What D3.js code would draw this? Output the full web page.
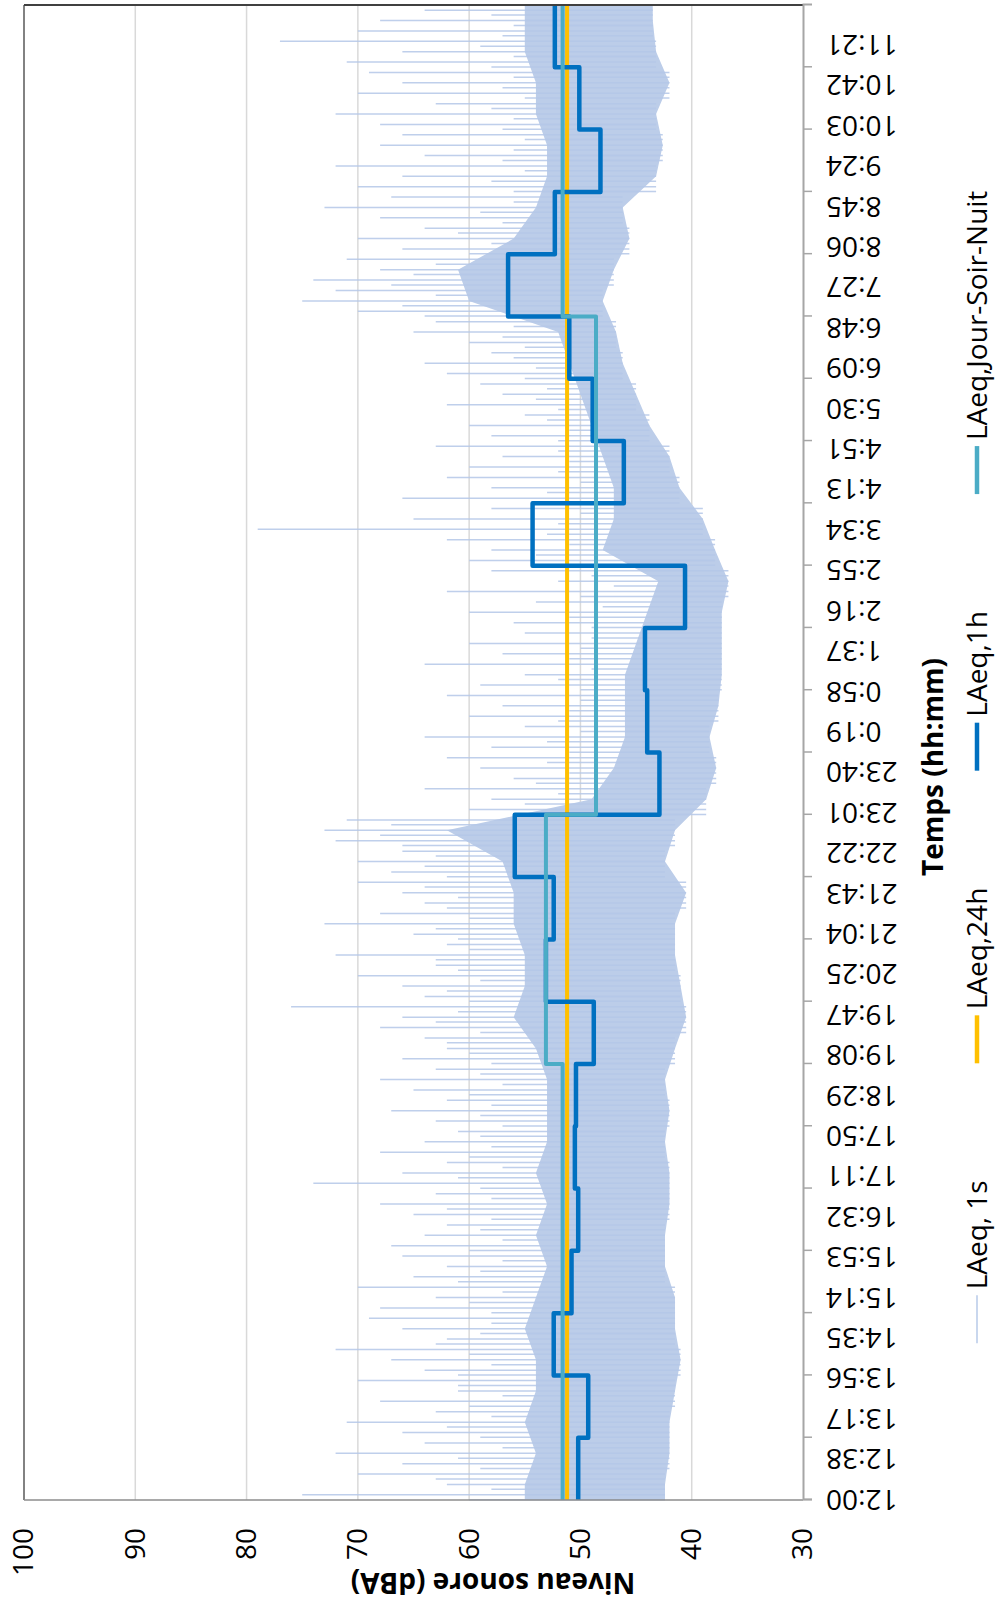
<!DOCTYPE html>
<html>
<head>
<meta charset="utf-8">
<script src="https://cdn.jsdelivr.net/npm/d3@7"></script>
<style>
  html, body { margin: 0; padding: 0; background: #fff; }
  svg { display: block; font-family: "Open Sans", sans-serif; }
</style>
</head>
<body>
<script>
// ---- data ----
// hourly LAeq,1h starting at 12:00
const hourlyLeq = [50.2, 49.3, 52.4, 50.8, 50.2, 50.5, 50.4, 48.8, 53.1, 52.4, 55.9, 42.9,
                   44.0, 44.2, 40.6, 54.3, 46.1, 48.9, 51.0, 56.5, 52.3, 48.2, 50.1, 52.3];
// LAeq,24h
const dailyLeq = 51.2;
// LAeq day / evening / night periods (seconds after 12:00)
const ldenStarts = [0, 25200, 39600, 68400];
const ldenValues = [51.6, 53.1, 48.6, 51.6];

// LAeq,1s band, per half hour from 12:00: lowest levels and edge of the dense part
const floorLevel = [42.4, 42, 42, 41.5, 41, 41.5, 41.5, 42.4, 42.4, 42, 42, 42.4,
                    42, 42.4, 41.5, 40.5, 41, 41.5, 41.5, 40.5, 42.4, 41.5, 38.7, 37.8,
                    38.4, 37.6, 37.3, 37.3, 37.3, 36.7, 37.9, 39, 41.1, 42, 43.8, 45,
                    46.2, 46.8, 48, 47, 45.6, 46.2, 43.2, 42.6, 43.2, 42, 43.2, 43.5];
const coreLevel = [55, 54, 55, 54, 54, 55, 54, 53, 54, 53, 54, 53,
                   53, 53, 54, 56, 55, 55, 56, 56, 57, 62, 49, 47,
                   46, 46, 46, 45, 44, 43, 48, 47, 47, 48, 49, 50,
                   51, 52, 60, 61, 56, 54, 53, 53, 54, 54, 55, 55];
// LAeq,1s peaks, per 10 minutes from 12:00 (one row per hour)
const peakLevel = [
  75, 62, 70, 66, 72, 64,
  66, 71, 63, 68, 61, 70,
  64, 67, 72, 62, 66, 69,
  68, 63, 70, 65, 62, 66,
  67, 64, 62, 65, 68, 63,
  74, 66, 62, 68, 64, 61,
  63, 67, 62, 65, 68, 63,
  66, 62, 64, 68, 66, 76,
  64, 66, 70, 63, 72, 62,
  65, 73, 68, 64, 66, 70,
  67, 70, 66, 72, 73, 71,
  60, 58, 64, 56, 59, 62,
  58, 64, 55, 60, 57, 62,
  59, 55, 64, 57, 60, 55,
  56, 60, 54, 62, 52, 58,
  60, 58, 62, 79, 65, 58,
  66, 58, 62, 60, 57, 63,
  58, 60, 55, 62, 57, 59,
  62, 64, 58, 60, 65, 63,
  70, 75, 72, 74, 68, 71,
  66, 70, 64, 68, 73, 67,
  70, 66, 72, 64, 68, 66,
  68, 72, 63, 70, 66, 69,
  71, 66, 77, 70, 68, 64
];
// smaller LAeq,1s excursions, per 10 minutes (offset by 5 min)
const minorLevel = [
  60, 58, 63, 59, 61, 57,
  59, 62, 58, 60, 57, 61,
  61, 58, 60, 63, 59, 58,
  58, 60, 57, 61, 59, 57,
  60, 57, 59, 58, 62, 58,
  59, 61, 57, 60, 58, 59,
  57, 59, 58, 60, 57, 59,
  58, 60, 62, 59, 63, 61,
  60, 62, 59, 61, 63, 60,
  61, 63, 60, 62, 61, 64,
  62, 64, 63, 66, 68, 67,
  53, 55, 52, 54, 51, 53,
  51, 53, 50, 52, 51, 50,
  50, 52, 49, 51, 50, 49,
  49, 51, 48, 50, 47, 49,
  52, 54, 51, 53, 52, 50,
  51, 53, 50, 52, 51, 52,
  52, 51, 53, 52, 54, 53,
  55, 54, 56, 55, 57, 56,
  64, 66, 63, 67, 65, 63,
  60, 58, 61, 57, 59, 56,
  56, 58, 55, 57, 56, 55,
  57, 56, 58, 55, 57, 56,
  58, 56, 59, 57, 56, 58
];

const dbTicks = [30, 40, 50, 60, 70, 80, 90, 100];
const timeLabels = ["12:00", "12:38", "13:17", "13:56", "14:35", "15:14", "15:53", "16:32",
  "17:11", "17:50", "18:29", "19:08", "19:47", "20:25", "21:04", "21:43", "22:22", "23:01",
  "23:40", "0:19", "0:58", "1:37", "2:16", "2:55", "3:34", "4:13", "4:51", "5:30", "6:09",
  "6:48", "7:27", "8:06", "8:45", "9:24", "10:03", "10:42", "11:21"];
const labelStep = 2335.3; // seconds between time labels
const seriesNames = ["LAeq, 1s", "LAeq,24h", "LAeq,1h", "LAeq,Jour-Soir-Nuit"];
const seriesColors = ["#c9d7ee", "#ffc000", "#0070c0", "#4bacc6"];

// ---- drawing ----
const width = 996, height = 1604;
const svg = d3.select("body").append("svg").attr("width", width).attr("height", height);
// chart is built as a landscape chart, then turned a quarter turn counter-clockwise
const g = svg.append("g").attr("transform", `translate(0,${height}) rotate(-90)`);

const x = d3.scaleLinear().domain([0, 86400]).range([104, 1599]);
const y = d3.scaleLinear().domain([30, 100]).range([803, 24]);

// gridlines
g.append("g").selectAll("line")
  .data(dbTicks.filter(v => v > 30 && v < 100))
  .join("line")
  .attr("x1", x(0)).attr("x2", x(86400))
  .attr("y1", d => y(d)).attr("y2", d => y(d))
  .attr("stroke", "#d9d9d9").attr("stroke-width", 1.5);

// LAeq,1s: dense band + spikes
const bandPts = [{ t: 0, lo: floorLevel[0], hi: coreLevel[0] }]
  .concat(floorLevel.map((f, i) => ({ t: i * 1800 + 900, lo: f, hi: coreLevel[i] })))
  .concat([{ t: 86400, lo: floorLevel[floorLevel.length - 1], hi: coreLevel[coreLevel.length - 1] }]);
g.append("path")
  .datum(bandPts)
  .attr("d", d3.area().x(d => x(d.t)).y0(d => y(d.lo)).y1(d => y(d.hi)))
  .attr("fill", "#bccde9");

const spikes = [];
peakLevel.forEach((p, i) => spikes.push({ t: i * 600 + 300, lo: floorLevel[Math.floor(i / 3)], hi: p }));
minorLevel.forEach((p, i) => spikes.push({ t: i * 600 + 20, lo: floorLevel[Math.floor(i / 3)], hi: p }));
g.append("g").selectAll("line")
  .data(spikes)
  .join("line")
  .attr("x1", d => x(d.t)).attr("x2", d => x(d.t))
  .attr("y1", d => y(d.lo)).attr("y2", d => y(d.hi))
  .attr("stroke", "#b4c7e7").attr("stroke-opacity", 0.85).attr("stroke-width", 1.5);

// step lines
const step = d3.line().x(d => x(d.t)).y(d => y(d.v)).curve(d3.curveStepAfter);

g.append("path")
  .datum([{ t: 0, v: dailyLeq }, { t: 86400, v: dailyLeq }])
  .attr("d", step).attr("fill", "none")
  .attr("stroke", seriesColors[1]).attr("stroke-width", 4);

const hourPts = hourlyLeq.map((v, i) => ({ t: i * 3600, v }));
hourPts.push({ t: 86400, v: hourlyLeq[hourlyLeq.length - 1] });
g.append("path")
  .datum(hourPts)
  .attr("d", step).attr("fill", "none")
  .attr("stroke", seriesColors[2]).attr("stroke-width", 4.5)
  .attr("stroke-linejoin", "round");

const ldenPts = ldenStarts.map((t, i) => ({ t, v: ldenValues[i] }));
ldenPts.push({ t: 86400, v: ldenValues[ldenValues.length - 1] });
g.append("path")
  .datum(ldenPts)
  .attr("d", step).attr("fill", "none")
  .attr("stroke", seriesColors[3]).attr("stroke-width", 4)
  .attr("stroke-linejoin", "round");

// plot frame
g.append("line").attr("x1", x(0)).attr("x2", x(86400)).attr("y1", y(100)).attr("y2", y(100))
  .attr("stroke", "#595959").attr("stroke-width", 1.5);
g.append("line").attr("x1", x(86400)).attr("x2", x(86400)).attr("y1", y(100)).attr("y2", y(30))
  .attr("stroke", "#404040").attr("stroke-width", 2);
g.append("line").attr("x1", x(0)).attr("x2", x(0)).attr("y1", y(100)).attr("y2", y(30))
  .attr("stroke", "#8c8c8c").attr("stroke-width", 1.5);

// time axis: hour ticks + labels
const hourTicks = g.append("g").attr("transform", `translate(0,${y(30)})`)
  .call(d3.axisBottom(x).tickValues(d3.range(0, 86400, 3600)).tickSize(9).tickFormat(""));
hourTicks.select(".domain").attr("stroke", "#a6a6a6").attr("stroke-width", 2);
hourTicks.selectAll(".tick line").attr("stroke", "#a6a6a6").attr("stroke-width", 1.5);

const labelAxis = g.append("g").attr("transform", `translate(0,${y(30)})`)
  .call(d3.axisBottom(x).tickValues(timeLabels.map((s, i) => i * labelStep))
    .tickFormat((d, i) => timeLabels[i]).tickSize(0));
labelAxis.select(".domain").remove();
labelAxis.selectAll(".tick text")
  .attr("transform", "rotate(-90)")
  .attr("x", -23).attr("y", 0).attr("dy", "0.35em")
  .attr("text-anchor", "end")
  .attr("font-family", "Open Sans, sans-serif")
  .attr("font-size", 28).attr("fill", "#000");

// dB axis labels
const dbAxis = g.append("g").attr("transform", `translate(${x(0)},0)`)
  .call(d3.axisLeft(y).tickValues(dbTicks).tickSize(0).tickPadding(28));
dbAxis.select(".domain").remove();
dbAxis.selectAll(".tick text")
  .attr("font-family", "Open Sans, sans-serif")
  .attr("font-size", 28).attr("fill", "#000");

// axis titles
g.append("text")
  .attr("transform", "translate(21,493) rotate(-90)")
  .attr("dy", "0.35em").attr("text-anchor", "middle")
  .attr("font-size", 28).attr("font-weight", "bold")
  .text("Niveau sonore (dBA)");
g.append("text")
  .attr("x", 837).attr("y", 933).attr("dy", "0.35em")
  .attr("text-anchor", "middle")
  .attr("font-size", 28).attr("font-weight", "bold")
  .text("Temps (hh:mm)");

// legend
const legend = g.append("g");
const items = legend.selectAll("g").data(seriesNames).join("g");
items.append("line")
  .attr("x1", 0).attr("x2", 48).attr("y1", 977).attr("y2", 977)
  .attr("stroke", (d, i) => seriesColors[i])
  .attr("stroke-width", (d, i) => i === 0 ? 2 : 4.5);
items.append("text")
  .attr("x", 54).attr("y", 977).attr("dy", "0.35em")
  .attr("font-size", 28)
  .text(d => d);
let pos = 0;
items.each(function () {
  const w = d3.select(this).select("text").node().getComputedTextLength();
  d3.select(this).attr("transform", `translate(${pos},0)`);
  pos += 54 + w + 117;
});
const total = pos - 117;
legend.attr("transform", `translate(${837 - total / 2},0)`);
</script>
</body>
</html>
